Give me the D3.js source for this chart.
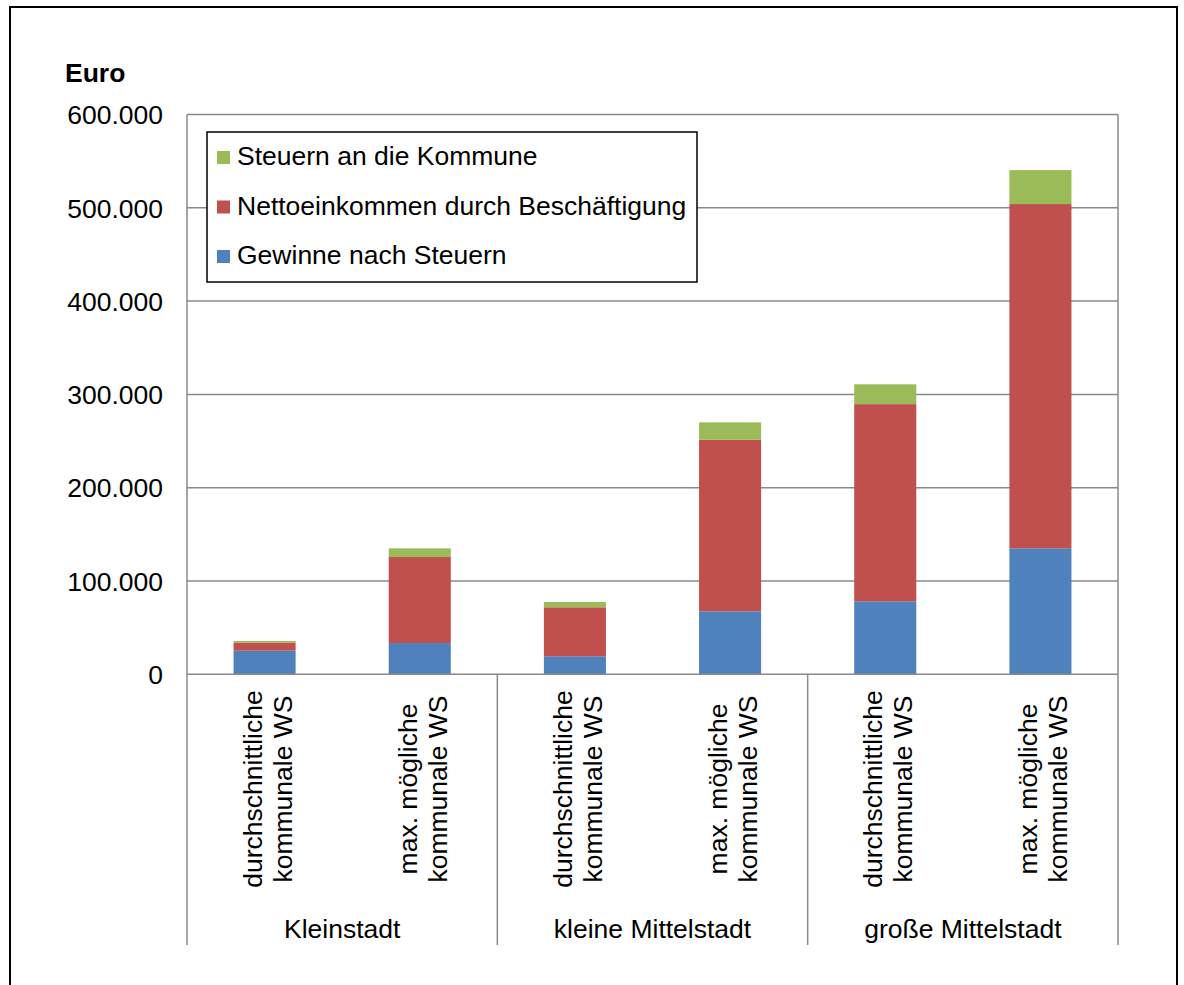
<!DOCTYPE html>
<html>
<head>
<meta charset="utf-8">
<script src="https://cdn.jsdelivr.net/npm/d3@7"></script>
<style>
  html, body { margin: 0; padding: 0; background: #fff; }
  svg { display: block; font-family: "Liberation Sans", Arial, sans-serif; }
</style>
</head>
<body>
<svg id="chart" width="1184" height="985"></svg>
<script>
// ---- data ----
const groups = ["Kleinstadt", "kleine Mittelstadt", "große Mittelstadt"];
const subLabels = [["durchschnittliche", "kommunale WS"], ["max. mögliche", "kommunale WS"]];
const categories = ["K-d", "K-m", "kM-d", "kM-m", "gM-d", "gM-m"];
const gewinne = [25300, 33500, 19300, 67500, 78200, 135000];
const netto = [8600, 92200, 52500, 183900, 211400, 369000];
const steuern = [1800, 9300, 5700, 18600, 21200, 36400];
const seriesNames = ["Gewinne nach Steuern", "Nettoeinkommen durch Beschäftigung", "Steuern an die Kommune"];
const seriesColors = ["#4F81BD", "#C0504D", "#9BBB59"];
const yTicks = [0, 100000, 200000, 300000, 400000, 500000, 600000];

// ---- layout ----
(function () {
const svg = d3.select("#chart");
const pL = 187, pR = 1118, pT = 114.5, pB = 674.3;
const fs = 26.5;

// outer frame
svg.append("rect").attr("x", 10).attr("y", 7).attr("width", 1167).attr("height", 1000)
  .attr("fill", "none").attr("stroke", "#000").attr("stroke-width", 2);

const x = d3.scaleBand().domain(categories).range([pL, pR]).paddingInner(0.6).paddingOuter(0.3);
const y = d3.scaleLinear().domain([0, 600000]).range([pB, pT]);

// gridlines
svg.append("g").selectAll("line").data(yTicks.filter(d => d > 0)).join("line")
  .attr("x1", pL).attr("x2", pR)
  .attr("y1", d => y(d)).attr("y2", d => y(d))
  .attr("stroke", "#8a8a8a").attr("stroke-width", 1.5);

// right border of plot
svg.append("line").attr("x1", pR).attr("x2", pR).attr("y1", pT).attr("y2", pB)
  .attr("stroke", "#8a8a8a").attr("stroke-width", 1.5);

// stacked bars
const table = categories.map((c, i) => ({ cat: c, g: gewinne[i], n: netto[i], s: steuern[i] }));
const stack = d3.stack().keys(["g", "n", "s"])(table);
svg.append("g").selectAll("g").data(stack).join("g")
  .attr("fill", (d, i) => seriesColors[i])
  .selectAll("rect").data(d => d).join("rect")
  .attr("x", d => x(d.data.cat))
  .attr("width", x.bandwidth())
  .attr("y", d => y(d[1]))
  .attr("height", d => y(d[0]) - y(d[1]));

// y axis
const yAxis = d3.axisLeft(y).tickValues(yTicks).tickSize(0).tickPadding(24)
  .tickFormat(d => d === 0 ? "0" : d3.format(",")(d).replace(/,/g, "."));
const ya = svg.append("g").attr("transform", `translate(${pL},0)`).call(yAxis);
ya.select(".domain").remove();
ya.selectAll("text").attr("font-size", fs).attr("fill", "#000")
  .attr("font-family", "'Liberation Sans', Arial, sans-serif").attr("dy", "0.35em");

svg.append("line").attr("x1", pL).attr("x2", pL).attr("y1", pT).attr("y2", 945)
  .attr("stroke", "#8a8a8a").attr("stroke-width", 1.5);

// x axis line
svg.append("line").attr("x1", pL).attr("x2", pR).attr("y1", pB).attr("y2", pB)
  .attr("stroke", "#8a8a8a").attr("stroke-width", 1.5);

// group dividers
const step = (pR - pL) / groups.length;
svg.append("g").selectAll("line").data(d3.range(1, groups.length + 1)).join("line")
  .attr("x1", i => pL + i * step).attr("x2", i => pL + i * step)
  .attr("y1", pB).attr("y2", 945)
  .attr("stroke", "#8a8a8a").attr("stroke-width", 1.5);

// rotated category labels
categories.forEach((c, i) => {
  const cx = x(c) + x.bandwidth() / 2;
  const lines = subLabels[i % 2];
  lines.forEach((t, j) => {
    const bx = cx - 3 + j * 30;
    svg.append("text")
      .attr("transform", `translate(${bx},789) rotate(-90)`)
      .attr("text-anchor", "middle")
      .attr("font-size", fs).attr("fill", "#000")
      .text(t);
  });
});

// group labels
svg.append("g").selectAll("text").data(groups).join("text")
  .attr("x", (d, i) => pL + (i + 0.5) * step)
  .attr("y", 938)
  .attr("text-anchor", "middle")
  .attr("font-size", fs).attr("fill", "#000")
  .text(d => d);

// axis title
svg.append("text").attr("x", 65).attr("y", 82).attr("font-size", fs)
  .attr("font-weight", "bold").attr("fill", "#000").text("Euro");

// legend
const lg = svg.append("g");
lg.append("rect").attr("x", 207).attr("y", 132).attr("width", 490).attr("height", 150)
  .attr("fill", "#fff").attr("stroke", "#000").attr("stroke-width", 1.5);
const legendOrder = [2, 1, 0];
legendOrder.forEach((si, r) => {
  const by = 165 + r * 49.5;
  lg.append("rect").attr("x", 217).attr("y", by - 14).attr("width", 13).attr("height", 13)
    .attr("fill", seriesColors[si]);
  lg.append("text").attr("x", 237).attr("y", by).attr("font-size", fs).attr("fill", "#000")
    .text(seriesNames[si]);
});
})();
</script>
</body>
</html>
